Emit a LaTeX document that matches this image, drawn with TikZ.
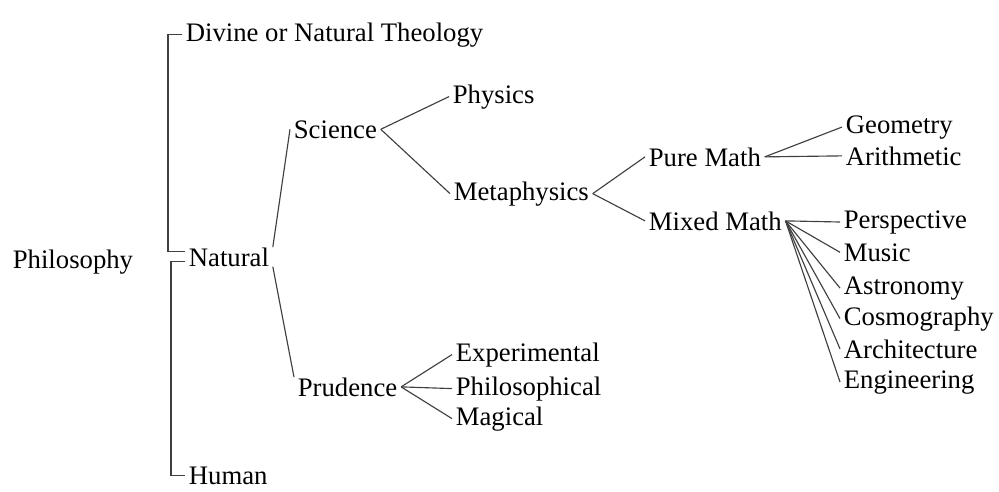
\documentclass[tikz,border=0pt]{standalone}
\usepackage{fontspec}
\setmainfont{Liberation Serif}
\usepackage{tikz}

\begin{document}
\begin{tikzpicture}[
    x=0.02cm,y=-0.02cm,
    term/.style={anchor=base west, inner xsep=2pt, inner ysep=0pt,
                 font=\fontsize{15.2}{18}\selectfont, text=black},
    branch/.style={draw=black!75, line width=0.65pt}
]
\useasboundingbox (0,0) rectangle (999,491);

% Root and first division
\node[term] (phil) at (9,268) {Philosophy};
\node[term] (div) at (182,41) {Divine or Natural Theology};
\node[term] (nat) at (185,266) {Natural};
\node[term] (hum) at (185,484) {Human};
\draw[branch] (div.west) -- ++(-14,0) |- ([yshift=0.1cm]nat.west);
\draw[branch] ([yshift=-0.1cm]nat.west) -- ++(-14,0) |- (hum.west);

% Natural philosophy
\node[term] (sci) at (290,138) {Science};
\node[term] (pru) at (294,396) {Prudence};
\draw[branch] (nat.north east) -- (sci.west);
\draw[branch] (nat.south east) -- (pru.north west);

% Science
\node[term] (phys) at (449,103) {Physics};
\node[term] (meta) at (450,200) {Metaphysics};
\draw[branch] (sci.east) -- (phys.west);
\draw[branch] (sci.east) -- (meta.west);

% Metaphysics and mathematics
\node[term] (pure) at (645,166) {Pure Math};
\node[term] (mixed) at (645,230) {Mixed Math};
\draw[branch] (meta.east) -- (pure.west);
\draw[branch] (meta.east) -- (mixed.west);
\node[term] (geo) at (842,133) {Geometry};
\node[term] (arith) at (842,165) {Arithmetic};
\draw[branch] (pure.east) -- (geo.west);
\draw[branch] (pure.east) -- (arith.west);

% Mixed mathematics
\node[term] (persp) at (840,228) {Perspective};
\node[term] (music) at (840,261) {Music};
\node[term] (astro) at (840,294) {Astronomy};
\node[term] (cosmo) at (840,325) {Cosmography};
\node[term] (archi) at (840,358) {Architecture};
\node[term] (engin) at (840,388) {Engineering};
\draw[branch] (mixed.east) -- (persp.west);
\draw[branch] (mixed.east) -- (music.west);
\draw[branch] (mixed.east) -- (astro.west);
\draw[branch] (mixed.east) -- (cosmo.west);
\draw[branch] (mixed.east) -- (archi.west);
\draw[branch] (mixed.east) -- (engin.west);

% Prudence
\node[term] (expe) at (452,361) {Experimental};
\node[term] (philo) at (452,395) {Philosophical};
\node[term] (magi) at (452,425) {Magical};
\draw[branch] (pru.east) -- (expe.west);
\draw[branch] (pru.east) -- (philo.west);
\draw[branch] (pru.east) -- (magi.west);
\end{tikzpicture}
\end{document}
